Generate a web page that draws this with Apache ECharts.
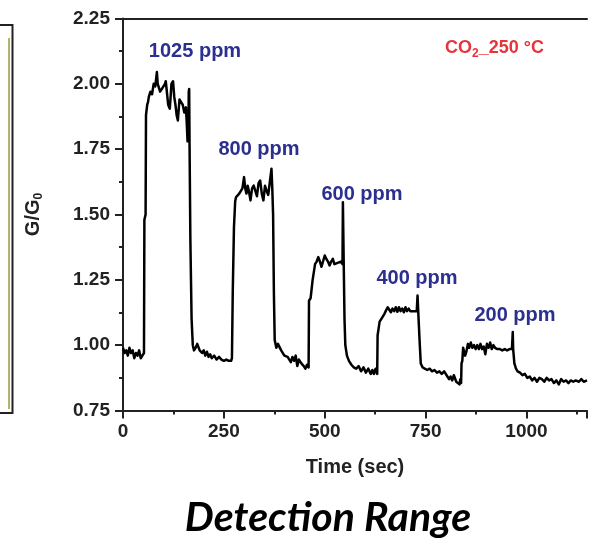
<!DOCTYPE html>
<html>
<head>
<meta charset="utf-8">
<script src="https://cdn.jsdelivr.net/npm/echarts@6/dist/echarts.min.js"></script>
<style>
  html, body { margin: 0; padding: 0; background: #ffffff; }
  #chart { width: 590px; height: 544px; }
</style>
</head>
<body>
<div id="chart"></div>
<script>
// CO2 response at 250 °C: normalised conductance G/G0 against time (s)
const timeSec = [
  0, 4, 8, 12, 16, 20, 24, 28, 32, 36, 40, 44, 48, 52,
  53, 56, 57, 60, 62, 64, 68, 72, 76, 80, 84, 86, 88, 92, 96, 100, 104, 106, 110, 112, 116, 118,
  120, 124, 127, 130, 133, 136, 140, 144, 148, 152, 156, 158, 160, 162, 163, 164,
  165, 167, 170, 173, 176, 180, 184, 190, 196, 200, 204, 208, 212, 216, 220, 226, 232, 238, 244,
  250, 256, 262, 268,
  270, 272, 275, 278, 280, 284, 288, 292, 296, 300, 303, 306, 309, 312, 316, 320, 324, 328, 332,
  336, 340, 344, 348, 352, 356, 360, 364, 368, 370,
  372, 374, 376, 380, 384, 392, 400, 408, 416, 420, 424, 428, 432, 436, 442, 448, 452, 456, 460,
  461, 465, 470, 476, 480, 484, 488, 492, 496, 500, 504, 508, 512, 516, 520, 524, 528, 532, 536,
  540, 544, 545, 547,
  549, 551, 555, 560, 566, 572, 578, 584, 590, 596, 602, 608, 614, 618, 622, 626, 630,
  631, 634, 636, 640, 644, 648, 652, 656, 660, 664, 668, 672, 676, 680, 684, 688, 692, 696, 700,
  704, 708, 712, 716, 720, 724, 728, 730, 732,
  735, 738, 742, 748, 754, 760, 766, 772, 778, 784, 790, 796, 802, 808, 812, 816, 820, 826, 830,
  834, 836, 838,
  839, 841, 843, 846, 848, 851, 855, 858, 862, 866, 870, 874, 878, 882, 886, 890, 894, 898, 902,
  906, 910, 914, 918, 922, 928, 934, 940, 946, 952, 958, 964, 966, 967,
  970, 974, 978, 984, 990, 996, 1002, 1008, 1014, 1020, 1026, 1032, 1038, 1044, 1050, 1056, 1062,
  1068, 1074, 1080, 1086, 1092, 1098, 1104, 1110, 1116, 1122, 1130, 1136, 1142, 1150
];
const conductanceRatio = [
  0.99, 0.97, 0.98, 0.96, 0.99, 0.97, 0.98, 0.95, 0.97, 0.96, 0.98, 0.95, 0.96, 0.97,
  1.48, 1.50, 1.88, 1.92, 1.93, 1.95, 1.97, 1.96, 2.00, 1.99, 2.045, 2.00, 1.99, 1.97, 1.98, 1.98, 2.00, 2.01, 1.95, 1.92, 1.905, 1.95,
  2.00, 2.01, 1.95, 1.92, 1.88, 1.86, 1.94, 1.93, 1.92, 1.89, 1.91, 1.85, 1.78, 1.80, 1.97, 1.98,
  1.76, 1.40, 1.10, 1.00, 0.98, 0.99, 1.005, 0.98, 0.97, 0.98, 0.96, 0.975, 0.955, 0.965, 0.95, 0.96, 0.945, 0.955, 0.945,
  0.94, 0.945, 0.94, 0.94,
  0.95, 1.20, 1.45, 1.55, 1.566, 1.57, 1.58, 1.585, 1.60, 1.643, 1.60, 1.58, 1.61, 1.59, 1.554, 1.60, 1.611, 1.59, 1.57,
  1.62, 1.63, 1.58, 1.554, 1.61, 1.59, 1.575, 1.58, 1.675, 1.60,
  1.50, 1.20, 1.02, 0.99, 1.005, 0.98, 0.96, 0.955, 0.935, 0.955, 0.94, 0.96, 0.92, 0.945, 0.93, 0.92, 0.91, 0.925, 0.915,
  1.17, 1.18, 1.25, 1.31, 1.32, 1.337, 1.32, 1.30, 1.293, 1.343, 1.33, 1.32, 1.305, 1.32, 1.33, 1.31, 1.31, 1.315, 1.31,
  1.32, 1.31, 1.547, 1.32,
  1.10, 1.00, 0.96, 0.94, 0.925, 0.915, 0.91, 0.92, 0.90, 0.915, 0.895, 0.91, 0.89, 0.905, 0.89, 0.91, 0.89,
  1.037, 1.04, 1.09, 1.10, 1.10, 1.12, 1.133, 1.145, 1.15, 1.126, 1.14, 1.13, 1.145, 1.128, 1.145, 1.13, 1.14, 1.126, 1.145,
  1.13, 1.14, 1.13, 1.135, 1.13, 1.133, 1.13, 1.19, 1.12,
  1.02, 0.93, 0.916, 0.91, 0.905, 0.91, 0.90, 0.905, 0.895, 0.90, 0.89, 0.90, 0.885, 0.87, 0.88, 0.865, 0.885, 0.86, 0.865,
  0.85, 0.87, 0.855,
  0.93, 0.94, 0.99, 0.985, 0.96, 0.975, 1.005, 0.99, 1.01, 0.99, 1.00, 0.985, 1.00, 0.985, 1.005, 0.985, 0.995, 0.965, 1.005,
  0.99, 1.01, 0.985, 1.00, 0.99, 0.985, 0.985, 0.98, 0.985, 0.98, 0.985, 0.985, 1.05, 0.985,
  0.93, 0.91, 0.90, 0.895, 0.885, 0.89, 0.875, 0.88, 0.865, 0.875, 0.86, 0.875, 0.87, 0.86, 0.875, 0.865, 0.87,
  0.855, 0.865, 0.85, 0.87, 0.86, 0.865, 0.855, 0.865, 0.86, 0.865, 0.86, 0.87, 0.86, 0.865
];
const xTicks = [0, 250, 500, 750, 1000];
const yTicks = [0.75, 1.00, 1.25, 1.50, 1.75, 2.00, 2.25];
const pulseLabels = ['1025 ppm', '800 ppm', '600 ppm', '400 ppm', '200 ppm'];

const seriesData = timeSec.map((t, i) => [t, conductanceRatio[i]]);

// label anchors, in pixels
const pulseLabelPos = [[195, 51], [259, 149], [362, 194], [417, 278], [515, 315]];

const AXIS_COLOR = '#222';
const FONT = "'Liberation Sans', Arial, sans-serif";

const chart = echarts.init(document.getElementById('chart'), null, { renderer: 'canvas' });

const graphics = pulseLabels.map((txt, i) => ({
  type: 'text',
  x: pulseLabelPos[i][0],
  y: pulseLabelPos[i][1],
  z: 10,
  style: {
    text: txt,
    font: 'bold 20px ' + FONT,
    fill: '#2b2f8f',
    align: 'center',
    verticalAlign: 'middle'
  }
}));

graphics.push({
  type: 'text',
  x: 445,
  y: 48,
  z: 10,
  style: {
    text: '{a|CO}{s|2}{a|_250 °C}',
    align: 'left',
    verticalAlign: 'middle',
    rich: {
      a: { font: 'bold 18px ' + FONT, fill: '#e8333a' },
      s: { font: 'bold 12px ' + FONT, fill: '#e8333a', padding: [12, 0, 0, 0] }
    }
  }
});

// neighbouring panel edge on the left
graphics.push({
  type: 'rect',
  shape: { x: -20, y: 25, width: 32.5, height: 388 },
  style: { fill: 'none', stroke: '#222', lineWidth: 2 }
});
graphics.push({
  type: 'line',
  shape: { x1: 9, y1: 38, x2: 9, y2: 409 },
  style: { stroke: '#9a9a3c', lineWidth: 1.5 }
});

// panel caption
graphics.push({
  type: 'text',
  x: 328,
  y: 518,
  style: {
    text: 'Detection Range',
    font: 'italic bold 41px Lato, "Open Sans", sans-serif',
    fill: '#000',
    align: 'center',
    verticalAlign: 'middle'
  }
});

const option = {
  backgroundColor: '#ffffff',
  animation: false,
  grid: { left: 123, top: 18.5, width: 480, height: 392, containLabel: false },
  xAxis: [
    {
      type: 'value',
      min: xTicks[0],
      max: 1150,
      interval: 250,
      name: 'Time (sec)',
      nameLocation: 'middle',
      nameGap: 47,
      nameTextStyle: { fontFamily: FONT, fontWeight: 'bold', fontSize: 20, color: AXIS_COLOR },
      axisLine: { show: true, onZero: false, lineStyle: { color: AXIS_COLOR, width: 2 } },
      axisTick: { show: true, inside: false, length: 8, lineStyle: { color: AXIS_COLOR, width: 2 } },
      minorTick: { show: true, splitNumber: 2, length: 4, lineStyle: { color: AXIS_COLOR, width: 2 } },
      axisLabel: {
        margin: 12,
        fontFamily: FONT, fontWeight: 'bold', fontSize: 19, color: AXIS_COLOR,
        formatter: v => (xTicks.indexOf(v) >= 0 ? String(v) : '')
      },
      splitLine: { show: false }
    },
    {
      type: 'value',
      position: 'top',
      min: xTicks[0],
      max: 1150,
      axisLine: { show: true, onZero: false, lineStyle: { color: AXIS_COLOR, width: 2 } },
      axisTick: { show: false },
      axisLabel: { show: false },
      splitLine: { show: false }
    }
  ],
  yAxis: {
    type: 'value',
    min: yTicks[0],
    max: yTicks[yTicks.length - 1],
    interval: 0.25,
    name: 'G/G{s|0}',
    nameLocation: 'middle',
    nameGap: 78,
    nameTextStyle: {
      fontFamily: FONT, fontWeight: 'bold', fontSize: 20, color: AXIS_COLOR,
      rich: { s: { fontFamily: FONT, fontWeight: 'bold', fontSize: 12, color: AXIS_COLOR, padding: [12, 0, 0, 0] } }
    },
    axisLine: { show: true, onZero: false, lineStyle: { color: AXIS_COLOR, width: 2 } },
    axisTick: { show: true, inside: false, length: 8, lineStyle: { color: AXIS_COLOR, width: 2 } },
    minorTick: { show: true, splitNumber: 2, length: 4, lineStyle: { color: AXIS_COLOR, width: 2 } },
    axisLabel: {
      margin: 13,
      fontFamily: FONT, fontWeight: 'bold', fontSize: 19, color: AXIS_COLOR,
      formatter: v => v.toFixed(2)
    },
    splitLine: { show: false }
  },
  series: [
    {
      type: 'line',
      data: seriesData,
      showSymbol: false,
      symbol: 'none',
      clip: true,
      lineStyle: { color: '#000', width: 2.5, join: 'round' }
    }
  ],
  graphic: graphics
};

chart.setOption(option);
</script>
</body>
</html>
